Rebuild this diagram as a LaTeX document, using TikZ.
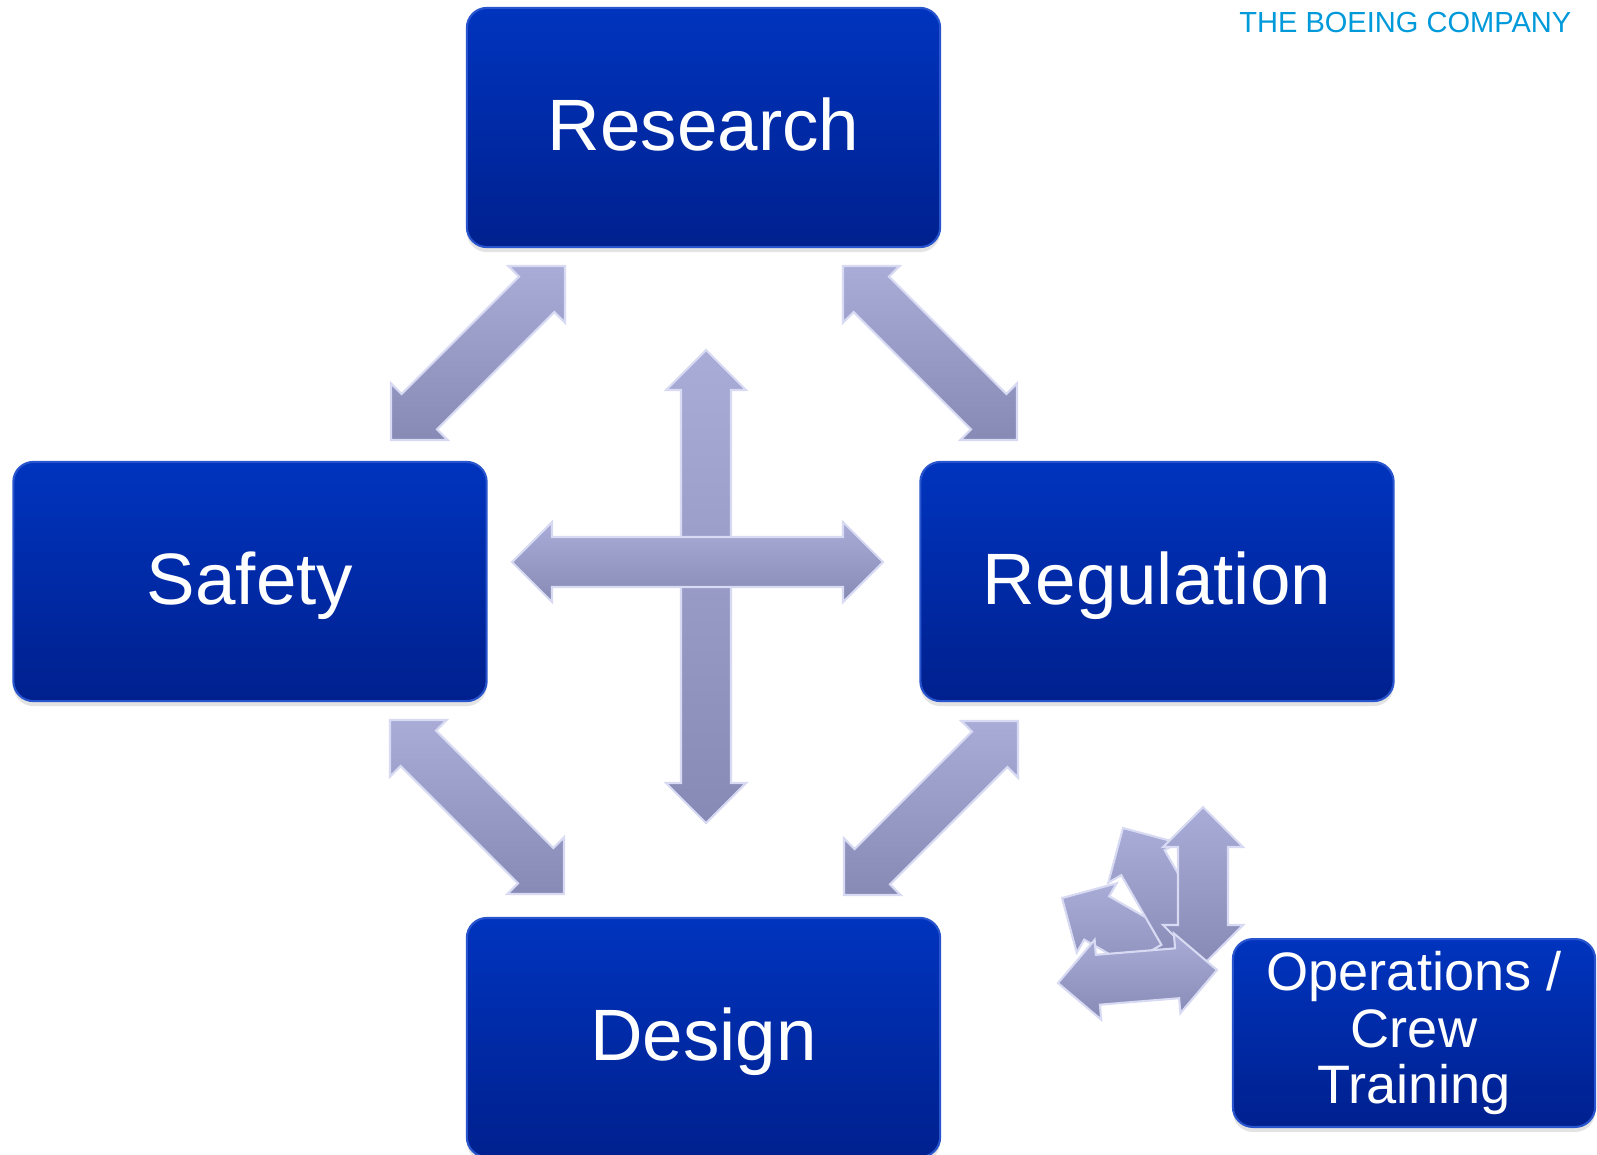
\documentclass[tikz,border=0pt]{standalone}
\usepackage{fontspec}
\setmainfont{Liberation Sans}
\usetikzlibrary{calc,shadows}
\definecolor{boxtop}{RGB}{0,52,190}
\definecolor{boxbot}{RGB}{0,32,142}
\definecolor{boxedge}{RGB}{40,85,205}
\definecolor{arrlight}{RGB}{168,172,214}
\definecolor{arrdark}{RGB}{134,138,180}
\definecolor{arredge}{RGB}{215,218,242}
\definecolor{boeingblue}{RGB}{0,153,218}
\tikzstyle{topic}=[rectangle,rounded corners=0.2cm,top color=boxtop,bottom color=boxbot,draw=boxedge,line width=0.6pt,text=white,drop shadow={opacity=0.22,shadow xshift=0pt,shadow yshift=-0.05cm}]
\tikzstyle{bigtopic}=[topic,minimum width=4.73cm,minimum height=2.39cm,font=\fontsize{20.7}{24}\selectfont,text height=0.6cm,text depth=0.15cm]
\tikzstyle{link}=[top color=arrlight,bottom color=arrdark,draw=arredge,line width=0.6pt,line join=miter]
% block arrow with two heads between two named tips
\newcommand{\blockarrow}[2]{%
  \path[link] (#1)
    -- ($(#1)!0.4cm!(#2)!0.4cm!90:(#2)$) -- ($(#1)!0.4cm!(#2)!0.25cm!90:(#2)$)
    -- ($(#2)!0.4cm!(#1)!0.25cm!-90:(#1)$) -- ($(#2)!0.4cm!(#1)!0.4cm!-90:(#1)$)
    -- (#2)
    -- ($(#2)!0.4cm!(#1)!0.4cm!90:(#1)$) -- ($(#2)!0.4cm!(#1)!0.25cm!90:(#1)$)
    -- ($(#1)!0.4cm!(#2)!0.25cm!-90:(#2)$) -- ($(#1)!0.4cm!(#2)!0.4cm!-90:(#2)$)
    -- cycle;}
\begin{document}
\begin{tikzpicture}[x=0.01cm,y=-0.01cm]
  \useasboundingbox (0,0) rectangle (1597,1154);

  \node[bigtopic] (research)   at (703.5,127.5) {Research};
  \node[bigtopic] (safety)     at (250,581.5)   {Safety};
  \node[bigtopic] (regulation) at (1157,581.5)  {Regulation};
  \node[bigtopic] (design)     at (703.5,1037.5) {Design};

  \node[anchor=base east,inner sep=0pt,text=boeingblue,font=\fontsize{8.26}{10}\selectfont] (boeing) at (1572,32) {THE BOEING COMPANY};

  % tips of the arrows
  \coordinate (rs1) at (565,266);  \coordinate (rs2) at (391,440);
  \coordinate (rr1) at (843,266);  \coordinate (rr2) at (1017,440);
  \coordinate (sd1) at (390,720);  \coordinate (sd2) at (564,894);
  \coordinate (gd1) at (1018,721); \coordinate (gd2) at (844,895);
  \coordinate (v1) at (706,350);   \coordinate (v2) at (706,823);
  \coordinate (h1) at (512,562);   \coordinate (h2) at (883,562);

  \blockarrow{rs1}{rs2}
  \blockarrow{rr1}{rr2}
  \blockarrow{sd1}{sd2}
  \blockarrow{gd1}{gd2}
  \blockarrow{v1}{v2}
  \blockarrow{h1}{h2}

  % fan of arrows next to operations
  \coordinate (c1) at (1062,898);  \coordinate (c2) at (1201,978);
  \coordinate (d1) at (1123,828);  \coordinate (d2) at (1203,967);
  \coordinate (a1) at (1203,807);  \coordinate (a2) at (1203,965);
  \coordinate (b1) at (1058,983);  \coordinate (b2) at (1217,970);
  \blockarrow{c1}{c2}
  \blockarrow{d1}{d2}
  \blockarrow{a1}{a2}
  \blockarrow{b1}{b2}

  \node[topic,minimum width=3.62cm,minimum height=1.80cm,align=center,
        font=\fontsize{15.4}{16.2}\selectfont] (ops) at (1414,1033) {Operations /\\Crew\\Training};
\end{tikzpicture}
\end{document}
